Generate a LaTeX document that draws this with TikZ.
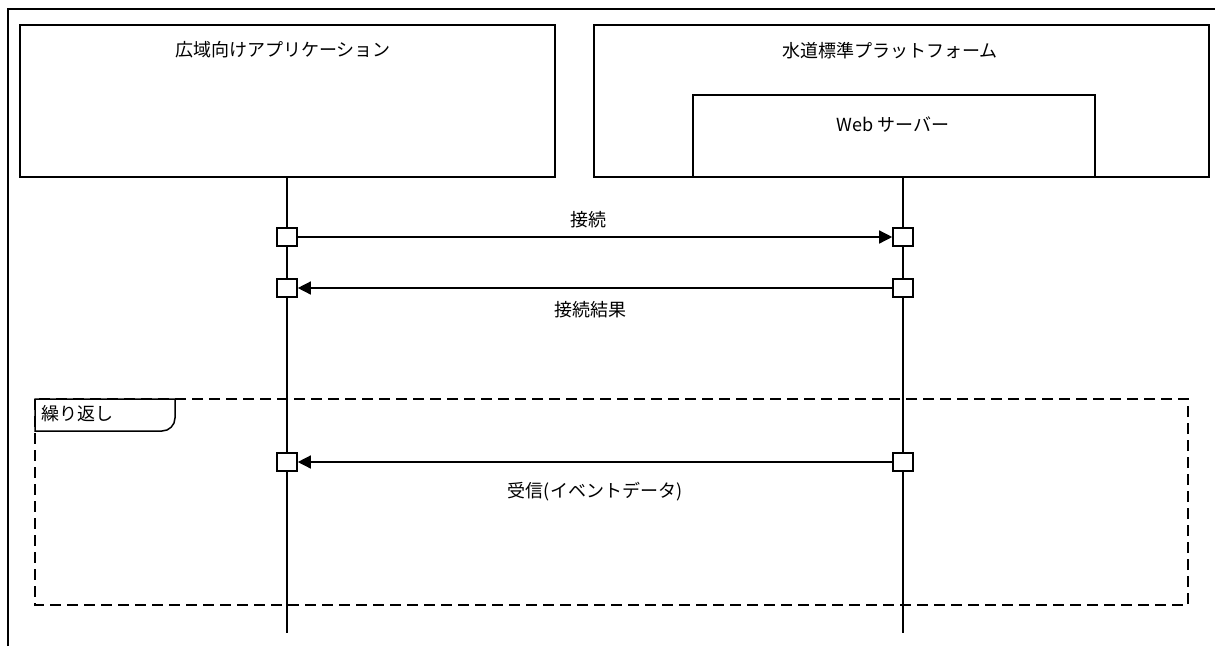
\documentclass[tikz,border=0pt]{standalone}
\usepackage{fontspec}
\setmainfont{Noto Sans CJK JP}
\usetikzlibrary{arrows.meta}
\begin{document}
\begin{tikzpicture}[x=1pt,y=-1pt,
  box/.style={draw,line width=1.8pt},
  lbl/.style={font=\fontsize{18}{21}\selectfont,inner sep=0pt},
  act/.style={draw,line width=1.6pt,fill=white,minimum width=20pt,minimum height=18pt,inner sep=0pt},
  life/.style={line width=1.4pt},
  msg/.style={line width=1.4pt,-{Triangle[length=13pt,width=13pt]}},
  loopframe/.style={line width=2pt,dash pattern=on 11pt off 6pt}]
\useasboundingbox (0,0) rectangle (1215,646);
\fill[white] (0,0) rectangle (1215,646);
% outer frame (top and left visible)
\draw[line width=1.8pt] (8,646) -- (8,9) -- (1215,9);
% boxes
\node[box,minimum width=535pt,minimum height=152pt,inner sep=0pt] (appbox) at (287.5,101) {};
\node[lbl] (applbl) at (283,50) {広域向けアプリケーション};
\node[box,minimum width=615pt,minimum height=152pt,inner sep=0pt] (platbox) at (901.5,101) {};
\node[lbl] (platlbl) at (890,51) {水道標準プラットフォーム};
\node[draw,line width=1.5pt,minimum width=402pt,minimum height=82pt,inner sep=0pt] (webbox) at (894,136) {};
\node[lbl] (weblbl) at (893,125) {Web サーバー};
% lifeline end points
\coordinate (lt) at (287,177);
\coordinate (lb) at (287,633);
\coordinate (rt) at (903,177);
\coordinate (rb) at (903,633);
\draw[life] (lt) -- (lb);
\draw[life] (rt) -- (rb);
% loop frame
\draw[loopframe] (35,399) rectangle (1188,605);
\draw[line width=1.5pt,fill=white] (35,399) -- (175,399) -- (175,418) arc[start angle=0,end angle=90,x radius=13pt,y radius=-13pt] -- (35,431) -- cycle;
\node[lbl,anchor=west] (looplbl) at (41,414) {繰り返し};
% activations
\node[act] (a1) at (287,237) {};
\node[act] (b1) at (903,237) {};
\node[act] (a2) at (287,288) {};
\node[act] (b2) at (903,288) {};
\node[act] (a3) at (287,462) {};
\node[act] (b3) at (903,462) {};
% messages
\draw[msg] (a1) -- (b1);
\draw[msg] (b2) -- (a2);
\draw[msg] (b3) -- (a3);
\node[lbl] (m1) at (588,220) {接続};
\node[lbl] (m2) at (590,310) {接続結果};
\node[lbl] (m3) at (595,492) {受信(イベントデータ)};
\end{tikzpicture}
\end{document}
